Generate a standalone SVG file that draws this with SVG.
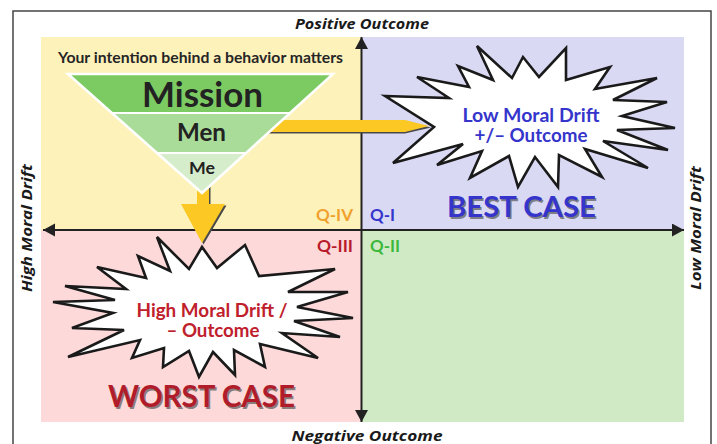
<svg xmlns="http://www.w3.org/2000/svg" width="717" height="444" viewBox="0 0 717 444">
<defs>
<style>
.t{font-family:Lato,"Liberation Sans",sans-serif;font-weight:bold}
.ax{font-family:"Open Sans","Liberation Sans",sans-serif;font-weight:bold;font-style:italic;font-size:14px;fill:#1a1a1a}
.axis{stroke:#222;stroke-width:2;fill:none}
.star{fill:#fff;stroke:#1a1a1a;stroke-width:2.6;stroke-linejoin:miter}
.yel{fill:#fcc924}
.shd{fill:#4a4a4a}
.q{font-family:Lato,"Liberation Sans",sans-serif;font-weight:bold;font-size:17px}
</style>
<marker id="ah" markerUnits="userSpaceOnUse" markerWidth="13" markerHeight="14" refX="12" refY="6.5" orient="auto-start-reverse" viewBox="0 0 13 14">
<path d="M0,0 L12,6.5 L0,13 z" fill="#222"/>
</marker>
</defs>
<rect x="0" y="0" width="717" height="444" fill="#fff"/>
<rect x="13" y="11" width="698" height="445" fill="#fff" stroke="#444" stroke-width="1.5"/>
<g id="quadrants">
<rect x="41" y="37" width="320.5" height="193" fill="#fef2bb"/>
<rect x="361.5" y="37" width="322.5" height="193" fill="#d9d9f4"/>
<rect x="41" y="230" width="320.5" height="192" fill="#fdd9da"/>
<rect x="361.5" y="230" width="322.5" height="192" fill="#d0eac6"/>
</g>
<g id="axis-labels">
<text class="ax" x="362" y="29" text-anchor="middle" textLength="134" lengthAdjust="spacingAndGlyphs">Positive Outcome</text>
<text class="ax" x="367" y="441" text-anchor="middle" textLength="151" lengthAdjust="spacingAndGlyphs">Negative Outcome</text>
<text class="ax" transform="translate(32,228) rotate(-90)" text-anchor="middle" textLength="128" lengthAdjust="spacingAndGlyphs">High Moral Drift</text>
<text class="ax" transform="translate(701,228) rotate(-90)" text-anchor="middle" textLength="124" lengthAdjust="spacingAndGlyphs">Low Moral Drift</text>
</g>
<g id="connectors">
<line class="axis" x1="43" y1="230" x2="684" y2="230" marker-start="url(#ah)" marker-end="url(#ah)"/>
<line class="axis" x1="361.5" y1="37" x2="361.5" y2="422" marker-start="url(#ah)" marker-end="url(#ah)"/>
</g>
<g id="starburst-best">
<polygon class="star" points="385,96 449,98 417,77 469,87 458,66 493,80 477,46 512,78 523,57 539,77 566,48 566,80 610,67 595,89 657,78 613,100 667,102 622,116 675,128 617,130 668,150 603,141 648,168 585,149 602,177 559,155 558,187 535,157 518,187 509,156 470,178 482,151 437,165 463,144 393,163 434,127"/>
<text class="t" fill="#3535cc" font-size="18" x="531" y="122" text-anchor="middle" textLength="137" lengthAdjust="spacingAndGlyphs">Low Moral Drift</text>
<text class="t" fill="#3535cc" font-size="18" x="531" y="142" text-anchor="middle" textLength="113" lengthAdjust="spacingAndGlyphs">+/– Outcome</text>
</g>
<g id="starburst-worst">
<polygon class="star" points="157,237 189,269 202,247 217,268 245,245 259,276 335,269 288,292 348,292 297,307 353,318 294,321 340,337 282,333 318,358 260,344 265,367 234,350 235,375 213,352 199,377 189,351 163,367 164,348 132,358 140,340 68,357 124,330 72,328 113,313 53,302 115,300 65,286 126,289 97,267 146,278 138,256 170,271"/>
<text class="t" fill="#c0202c" font-size="18" x="212" y="317" text-anchor="middle" textLength="151" lengthAdjust="spacingAndGlyphs">High Moral Drift /</text>
<text class="t" fill="#c0202c" font-size="18" x="213" y="337" text-anchor="middle" textLength="93" lengthAdjust="spacingAndGlyphs">– Outcome</text>
</g>
<g id="arrow-right">
<polygon class="shd" points="250,121.5 405,121.5 431,127.5 405,133.5 250,133.5"/>
<polygon class="yel" points="250,120 405,120 429,126 405,132 250,132"/>
</g>
<g id="arrow-down">
<polygon class="shd" points="198.5,185 210.5,185 210.5,205.5 226.5,205.5 203.5,244.5 182.5,205.5 198.5,205.5"/>
<polygon class="yel" points="197,185 209,185 209,204 225,204 202,243 181,204 197,204"/>
</g>
<g id="funnel">
<text class="t" fill="#262626" font-size="15" x="200.5" y="63" text-anchor="middle" textLength="285" lengthAdjust="spacingAndGlyphs">Your intention behind a behavior matters</text>
<polygon points="68,74 333,74 290,113 112,113" fill="#7ccb62"/>
<polygon points="112,113 290,113 246,153 157,153" fill="#a8dc98"/>
<polygon points="157,153 246,153 202,193" fill="#d6edcc"/>
<line x1="112" y1="113" x2="290" y2="113" stroke="#fff" stroke-width="2"/>
<line x1="157" y1="153" x2="246" y2="153" stroke="#fff" stroke-width="2"/>
<polygon points="68,74 333,74 202,193" fill="none" stroke="#fff" stroke-width="2.5" stroke-linejoin="miter"/>
<text class="t" fill="#222" font-size="35" x="202.5" y="107" text-anchor="middle" textLength="121" lengthAdjust="spacingAndGlyphs">Mission</text>
<text class="t" fill="#222" font-size="24" x="201.5" y="141" text-anchor="middle" textLength="49" lengthAdjust="spacingAndGlyphs">Men</text>
<text class="t" fill="#222" font-size="17" x="202" y="174" text-anchor="middle" textLength="26" lengthAdjust="spacingAndGlyphs">Me</text>
</g>
<g id="quadrant-labels">
<text class="q" fill="#f0a12e" x="353" y="221" text-anchor="end" textLength="37" lengthAdjust="spacingAndGlyphs">Q-IV</text>
<text class="q" fill="#3535cc" x="370" y="221" textLength="25" lengthAdjust="spacingAndGlyphs">Q-I</text>
<text class="q" fill="#b81c2c" x="353" y="252" text-anchor="end" textLength="36" lengthAdjust="spacingAndGlyphs">Q-III</text>
<text class="q" fill="#3cb83c" x="370" y="252" textLength="30" lengthAdjust="spacingAndGlyphs">Q-II</text>
</g>
<g id="case-labels">
<text class="t" fill="#555" fill-opacity="0.7" font-size="28" x="523" y="218.5" text-anchor="middle" textLength="149" lengthAdjust="spacingAndGlyphs">BEST CASE</text>
<text class="t" fill="#3535cc" font-size="28" x="521.5" y="217" text-anchor="middle" textLength="149" lengthAdjust="spacingAndGlyphs">BEST CASE</text>
<text class="t" fill="#555" fill-opacity="0.7" font-size="30" x="203" y="408.5" text-anchor="middle" textLength="187" lengthAdjust="spacingAndGlyphs">WORST CASE</text>
<text class="t" fill="#b01c2a" font-size="30" x="201.5" y="407" text-anchor="middle" textLength="187" lengthAdjust="spacingAndGlyphs">WORST CASE</text>
</g>
</svg>
